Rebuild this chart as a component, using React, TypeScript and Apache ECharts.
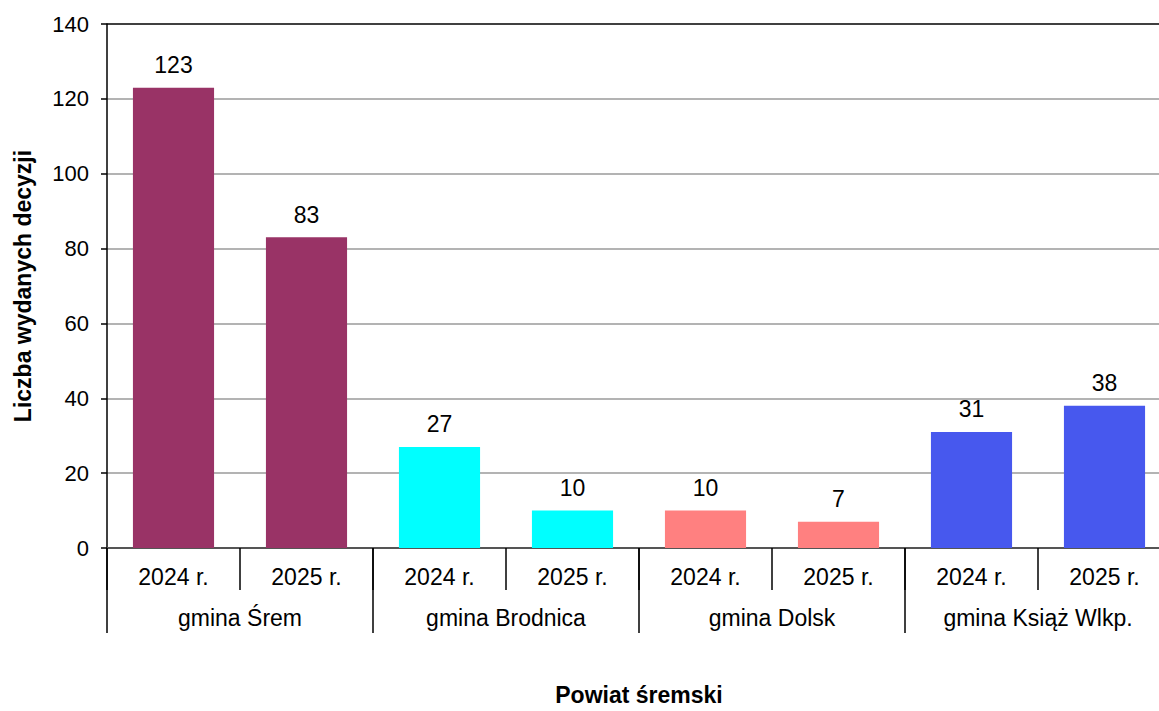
import React, { useEffect, useRef } from "react";
import * as echarts from "echarts";

const yearLabels = ["2024 r.", "2025 r.", "2024 r.", "2025 r.", "2024 r.", "2025 r.", "2024 r.", "2025 r."];
const groupLabels = ["gmina Śrem", "gmina Brodnica", "gmina Dolsk", "gmina Książ Wlkp."];
const values = [123, 83, 27, 10, 10, 7, 31, 38];
const groupColors = ["#993366", "#00FFFF", "#FF8080", "#4758EE"];
const yTicks = [0, 20, 40, 60, 80, 100, 120, 140];

const FONT = "'Liberation Sans', Arial, sans-serif";

export default function App() {
  const ref = useRef<HTMLDivElement>(null);
  useEffect(() => {
    if (!ref.current) return;
    const chart = echarts.init(ref.current, null, { renderer: "svg" });
    const splitColors = yTicks.map((v, i) => (i === yTicks.length - 1 ? "#000000" : "#9a9a9a"));
    chart.setOption({
      animation: false,
      backgroundColor: "#ffffff",
      textStyle: { fontFamily: FONT },
      grid: { left: 107, right: 9, top: 24, bottom: 160, containLabel: false },
      xAxis: [
        {
          type: "category",
          data: yearLabels,
          position: "bottom",
          axisLine: { show: true, lineStyle: { color: "#555555", width: 2 } },
          axisTick: { show: true, interval: 0, length: 42, alignWithLabel: false, lineStyle: { color: "#000000", width: 1.5 } },
          axisLabel: { interval: 0, margin: 17, fontSize: 23, color: "#000000", fontFamily: FONT },
          splitLine: { show: false },
        },
        {
          type: "category",
          data: groupLabels,
          position: "bottom",
          axisLine: { show: false },
          axisTick: { show: true, interval: 0, length: 85, alignWithLabel: false, lineStyle: { color: "#000000", width: 1.5 } },
          axisLabel: { interval: 0, margin: 58, fontSize: 23, color: "#000000", fontFamily: FONT },
          splitLine: { show: false },
          name: "Powiat śremski",
          nameLocation: "middle",
          nameGap: 135,
          nameTextStyle: { fontSize: 23, fontWeight: "bold", color: "#000000", fontFamily: FONT },
        },
      ],
      yAxis: {
        type: "value",
        min: 0,
        max: 140,
        interval: 20,
        axisLine: { show: true, lineStyle: { color: "#000000", width: 1.5 } },
        axisTick: { show: true, length: 6, lineStyle: { color: "#000000", width: 1.5 } },
        axisLabel: { margin: 18, fontSize: 22, color: "#000000", fontFamily: FONT },
        splitLine: { show: true, lineStyle: { color: splitColors, width: 1.5 } },
        name: "Liczba wydanych decyzji",
        nameLocation: "middle",
        nameGap: 73,
        nameTextStyle: { fontSize: 23, fontWeight: "bold", color: "#000000", fontFamily: FONT },
      },
      series: [
        {
          type: "bar",
          xAxisIndex: 0,
          barWidth: "61%",
          data: values.map((v, i) => ({
            value: v,
            itemStyle: { color: groupColors[Math.floor(i / 2)] },
          })),
          label: {
            show: true,
            position: "top",
            distance: 11,
            fontSize: 23,
            color: "#000000",
            fontFamily: FONT,
          },
        },
      ],
    });
    return () => chart.dispose();
  }, []);
  return (
    <div style={{ position: "fixed", left: 0, top: 0, width: 1159, height: 711, overflow: "hidden", background: "#fff" }}>
      <div ref={ref} style={{ width: 1180, height: 711 }} />
    </div>
  );
}
